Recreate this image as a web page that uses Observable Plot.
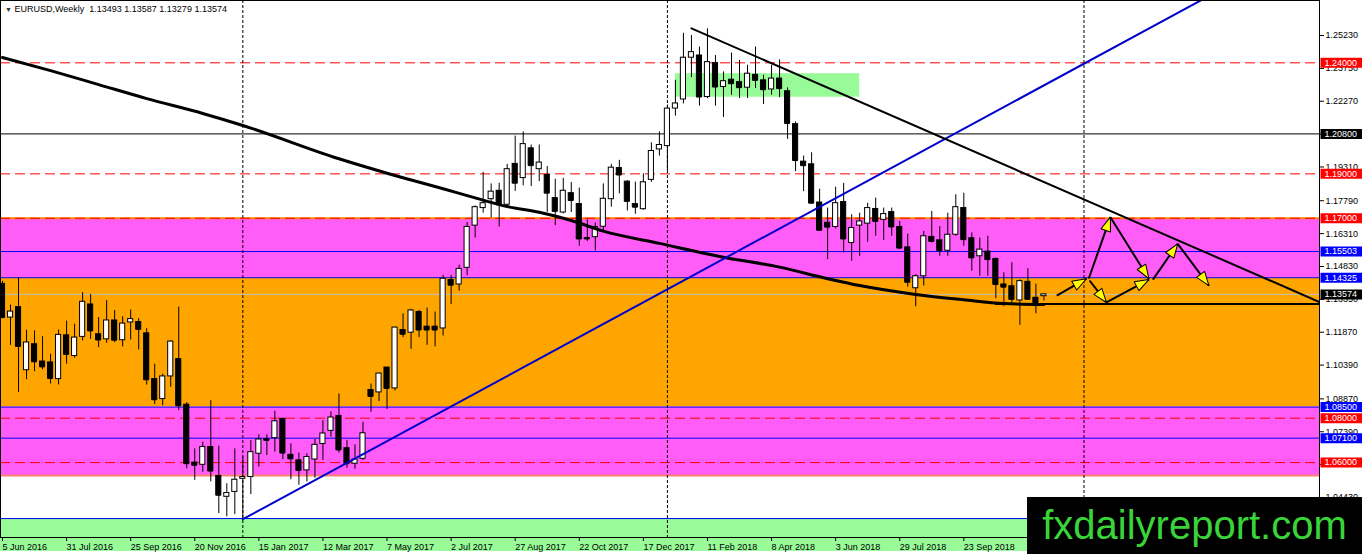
<!DOCTYPE html>
<html>
<head>
<meta charset="utf-8">
<script src="https://cdn.jsdelivr.net/npm/d3@7"></script>
<script src="https://cdn.jsdelivr.net/npm/@observablehq/plot@0.6"></script>
<style>
  html, body { margin: 0; padding: 0; background: #fff; }
  #wrap { position: relative; width: 1362px; height: 554px; overflow: hidden; }
  #title { position: absolute; left: 5px; top: 4px; font: 9px "Liberation Sans", Arial, sans-serif; color: #000; white-space: pre; }
  #title .tri { font-size: 7px; color: #333; }
  #brand { position: absolute; left: 1027px; top: 497px; width: 335px; height: 57px; background: #000;
           color: #3ad43a; font: 40px "Liberation Sans", Arial, sans-serif; line-height: 57px; text-align: center; letter-spacing: 0px; }
</style>
</head>
<body>
<div id="wrap">
  <div id="chart"></div>
  <div id="title"><span class="tri">▼</span> EURUSD,Weekly  1.13493 1.13587 1.13279 1.13574</div>
  <div id="brand">fxdailyreport.com</div>
</div>
<script>
// EURUSD weekly bars, first bar = week of 5 Jun 2016
const barOpen = [1.1405,1.1253,1.1300,1.1016,1.1133,1.1055,1.1051,1.0976,1.1173,1.1080,
  1.1166,1.1312,1.1178,1.1155,1.1240,1.1151,1.1231,1.1233,1.1182,1.0976,
  1.0886,1.0988,1.1066,1.0861,1.0600,1.0590,1.0670,1.0540,1.0446,1.0468,
  1.0527,1.0535,1.0640,1.0705,1.0710,1.0797,1.0635,1.0610,1.0565,1.0614,
  1.0684,1.0743,1.0810,1.0665,1.0595,1.0617,1.0927,1.0916,1.1028,1.0934,
  1.1197,1.1185,1.1278,1.1212,1.1212,1.1204,1.1422,1.1402,1.1477,1.1667,
  1.1746,1.1786,1.1824,1.1761,1.1945,1.1881,1.2015,1.1921,1.1895,1.1791,
  1.1726,1.1813,1.1764,1.1611,1.1615,1.1662,1.1786,1.1926,1.1865,1.1764,
  1.1741,1.1873,1.2010,1.2025,1.2194,1.2235,1.2423,1.2433,1.2246,1.2399,
  1.2291,1.2324,1.2313,1.2288,1.2346,1.2321,1.2280,1.2329,1.2272,1.2124,
  1.1955,1.1943,1.1771,1.1680,1.1661,1.1773,1.1589,1.1667,1.1676,1.1742,
  1.1693,1.1728,1.1661,1.1569,1.1385,1.1439,1.1616,1.1601,1.1554,1.1626,
  1.1746,1.1610,1.1529,1.1550,1.1517,1.1402,1.1394,1.1330,1.1414,1.1342,
  1.13493];
const barHigh = [1.1416,1.1309,1.1432,1.1196,1.1193,1.1167,1.1088,1.1197,1.1237,1.1223,
  1.1365,1.1357,1.1253,1.1330,1.1285,1.1257,1.1287,1.1248,1.1203,1.1043,
  1.0998,1.1148,1.1300,1.0870,1.0662,1.0692,1.0879,1.0674,1.0505,1.0662,
  1.0625,1.0699,1.0725,1.0725,1.0831,1.0800,1.0685,1.0643,1.0640,1.0704,
  1.0789,1.0829,1.0909,1.0700,1.0680,1.0782,1.0954,1.1003,1.1028,1.1210,
  1.1270,1.1290,1.1285,1.1296,1.1278,1.1443,1.1443,1.1489,1.1681,1.1756,
  1.1907,1.1855,1.1858,1.1943,1.2070,1.2089,1.2030,1.2030,1.1933,1.1876,
  1.1880,1.1861,1.1836,1.1693,1.1679,1.1855,1.1943,1.1961,1.1870,1.1863,
  1.1900,1.2040,1.2089,1.2210,1.2321,1.2533,1.2523,1.2471,1.2553,1.2433,
  1.2359,1.2444,1.2411,1.2389,1.2471,1.2344,1.2389,1.2413,1.2287,1.2134,
  1.1980,1.1995,1.1831,1.1746,1.1840,1.1857,1.1716,1.1723,1.1768,1.1791,
  1.1746,1.1746,1.1686,1.1629,1.1446,1.1641,1.1731,1.1663,1.1723,1.1806,
  1.1813,1.1634,1.1611,1.1619,1.1521,1.1455,1.1500,1.1423,1.1473,1.1404,
  1.13587];
const barLow = [1.1248,1.1128,1.0916,1.0973,1.1009,1.1018,1.0954,1.0950,1.1043,1.1070,
  1.1148,1.1155,1.1118,1.1137,1.1140,1.1121,1.1152,1.1107,1.0949,1.0861,
  1.0856,1.0939,1.0834,1.0572,1.0520,1.0557,1.0513,1.0371,1.0356,1.0366,
  1.0342,1.0456,1.0580,1.0632,1.0647,1.0613,1.0523,1.0498,1.0513,1.0530,
  1.0610,1.0715,1.0643,1.0575,1.0570,1.0610,1.0827,1.0875,1.0839,1.0923,
  1.1163,1.1110,1.1163,1.1128,1.1121,1.1170,1.1312,1.1372,1.1442,1.1611,
  1.1723,1.1701,1.1661,1.1750,1.1821,1.1846,1.1843,1.1865,1.1726,1.1667,
  1.1720,1.1726,1.1574,1.1596,1.1553,1.1641,1.1750,1.1810,1.1733,1.1718,
  1.1736,1.1862,1.1980,1.1915,1.2160,1.2215,1.2333,1.2205,1.2239,1.2205,
  1.2154,1.2254,1.2239,1.2239,1.2284,1.2212,1.2254,1.2243,1.2055,1.1910,
  1.1820,1.1764,1.1644,1.1514,1.1652,1.1544,1.1507,1.1529,1.1592,1.1619,
  1.1600,1.1619,1.1559,1.1390,1.1302,1.1395,1.1589,1.1529,1.1529,1.1619,
  1.1574,1.1462,1.1439,1.1439,1.1338,1.1302,1.1316,1.1218,1.1330,1.1270,
  1.13279];
const barClose = [1.1253,1.1280,1.1123,1.1141,1.1054,1.1031,1.0979,1.1175,1.1087,1.1163,
  1.1324,1.1193,1.1152,1.1240,1.1151,1.1226,1.1246,1.1200,1.0973,1.0883,
  1.0988,1.1145,1.0856,1.0595,1.0588,1.0670,1.0562,1.0453,1.0463,1.0523,
  1.0535,1.0647,1.0704,1.0700,1.0786,1.0643,1.0617,1.0565,1.0625,1.0680,
  1.0731,1.0803,1.0657,1.0595,1.0614,1.0732,1.0898,1.1001,1.0934,1.1208,
  1.1178,1.1285,1.1197,1.1197,1.1197,1.1428,1.1399,1.1472,1.1661,1.1750,
  1.1768,1.1820,1.1761,1.1921,1.1858,1.2034,1.1937,1.1951,1.1813,1.1731,
  1.1824,1.1780,1.1607,1.1607,1.1661,1.1788,1.1928,1.1895,1.1776,1.1750,
  1.1862,1.2003,1.2030,1.2194,1.2217,1.2423,1.2448,1.2246,1.2403,1.2291,
  1.2317,1.2306,1.2288,1.2351,1.2321,1.2279,1.2329,1.2284,1.2127,1.1960,
  1.1937,1.1768,1.1646,1.1660,1.1768,1.1607,1.1656,1.1686,1.1746,1.1686,
  1.1719,1.1661,1.1566,1.1412,1.1439,1.1619,1.1596,1.1554,1.1626,1.1750,
  1.1604,1.1522,1.1559,1.1514,1.1402,1.1390,1.1335,1.1417,1.1335,1.1320,
  1.13574];

// moving average, read at selected bars
const maBar = [0,6,12,18,25,30,42,48,55,59,63,67,71,75,82,90,97,103,107,114,120,125,130];
const maValue = [1.2424,1.2365,1.2302,1.2239,1.2172,1.2118,1.1968,1.1903,1.1833,1.1792,1.1753,1.1727,
  1.1690,1.1642,1.1587,1.1525,1.1480,1.1428,1.1397,1.1357,1.1333,1.1316,1.1312];

// date axis
const xTickBar = [0,8,16,24,32,40,48,56,64,72,80,88,96,104,112,120];
const xTickLabels = ["5 Jun 2016","31 Jul 2016","25 Sep 2016","20 Nov 2016","15 Jan 2017","12 Mar 2017",
  "7 May 2017","2 Jul 2017","27 Aug 2017","22 Oct 2017","17 Dec 2017","11 Feb 2018","8 Apr 2018",
  "3 Jun 2018","29 Jul 2018","23 Sep 2018"];
const yearStartBar = [30, 83, 135];

// price axis
const yTicks = [1.2523,1.2375,1.2227,1.2079,1.1931,1.1779,1.1631,1.1483,1.1335,1.1187,1.1039,1.0887,1.0739,1.0591,1.0443];

// horizontal levels with price tags
const levelPrice = [1.24, 1.208, 1.19, 1.17, 1.15503, 1.14325, 1.13574, 1.085, 1.08, 1.071, 1.06];
const levelKind  = ["dash","solid","dash","dash","blue","blue","bid","blue","dash","blue","dash"];

// shaded zones
const zoneHigh = [1.17, 1.14325, 1.085, 1.0348];
const zoneLow  = [1.14325, 1.085, 1.0542, 1.0200];
const zoneFill = ["#ff5cf8", "#ffa500", "#ff5cf8", "#98fb98"];

// consolidation box
const boxBars = [84, 107];
const boxPrice = [1.2245, 1.2351];

// trend lines
const riseBar = [30, 131];
const risePrice = [1.0345, 1.2318];
const fallBar = [86, 164.4];
const fallPrice = [1.2555, 1.1323];
const supportBar = [124, 164.4];
const supportPrice = 1.1314;

// projected path arrows
const arrowBar1 = [131.6, 135.6, 138.3, 135.7, 137.8, 143.6, 146.7];
const arrowPx1  = [1.1352, 1.1429, 1.1705, 1.1420, 1.1321, 1.1424, 1.1585];
const arrowBar2 = [135.3, 138.3, 143.1, 137.8, 143.1, 146.7, 150.6];
const arrowPx2  = [1.1428, 1.1705, 1.1428, 1.1321, 1.1424, 1.1585, 1.1397];

// ---------------------------------------------------------------
const width = 1362, height = 554;
const margin = {top: 0, right: 43, bottom: 17, left: 0};
const xDomain = [-0.25, 164.4];
const yDomain = [1.02628, 1.26806];
const kx = (width - margin.left - margin.right) / (xDomain[1] - xDomain[0]);
const ky = (height - margin.top - margin.bottom) / (yDomain[1] - yDomain[0]);

const bars = barOpen.map((o, i) => ({i, o, h: barHigh[i], l: barLow[i], c: barClose[i]}));
const ma = maBar.map((i, k) => ({i, p: maValue[k]}));
const zones = zoneHigh.map((hi, k) => ({hi, lo: zoneLow[k], fill: zoneFill[k]}));
const kindColor = {dash: "#ff0000", solid: "#000000", blue: "#0000ff", bid: "#000000"};
const levels = levelPrice.map((p, k) => ({p, kind: levelKind[k], bg: kindColor[levelKind[k]]}));

const slope = (risePrice[1] - risePrice[0]) / (riseBar[1] - riseBar[0]);
const riseLine = [
  {i: riseBar[0], p: risePrice[0]},
  {i: xDomain[1], p: risePrice[0] + slope * (xDomain[1] - riseBar[0])}
];
const fallLine = fallBar.map((i, k) => ({i, p: fallPrice[k]}));
const supportLine = supportBar.map(i => ({i, p: supportPrice}));

const arrows = arrowBar1.map((x1, k) => {
  const x2 = arrowBar2[k], y1 = arrowPx1[k], y2 = arrowPx2[k];
  const angle = Math.atan2((x2 - x1) * kx, (y2 - y1) * ky) * 180 / Math.PI;
  return {x1, y1, x2, y2, angle};
});

const arrowHead = {
  draw(ctx, l, r) {
    ctx.moveTo(-r, 0);
    ctx.lineTo(0, -l);
    ctx.lineTo(r, 0);
    ctx.closePath();
  }
};
const tagBox = {
  draw(ctx) {
    ctx.moveTo(1, -5);
    ctx.lineTo(44, -5);
    ctx.lineTo(44, 5);
    ctx.lineTo(1, 5);
    ctx.closePath();
  }
};

const chart = Plot.plot({
  width, height,
  marginTop: margin.top, marginRight: margin.right, marginBottom: margin.bottom, marginLeft: margin.left,
  x: {type: "linear", domain: xDomain, axis: null},
  y: {type: "linear", domain: yDomain, axis: null},
  color: {type: "identity"},
  style: {fontFamily: "'Liberation Sans', Arial, sans-serif", fontSize: "9px", background: "#fff", color: "#000", overflow: "visible"},
  marks: [
    // zones
    Plot.rect(zones, {y1: "lo", y2: "hi", fill: "fill"}),
    Plot.rect([0], {x1: () => boxBars[0], x2: () => boxBars[1], y1: () => boxPrice[0], y2: () => boxPrice[1], fill: "#98fb98"}),
    // zone edges
    Plot.ruleY([zoneHigh[0]], {stroke: "#ff8c00", strokeWidth: 2}),
    Plot.ruleY([zoneLow[2]], {stroke: "#fa8072", strokeWidth: 2}),
    Plot.ruleY([zoneHigh[3]], {stroke: "#0000ff", strokeWidth: 1}),
    // horizontal levels
    Plot.ruleY(levels.filter(d => d.kind === "dash"), {y: "p", stroke: "#ff0000", strokeWidth: 1, strokeDasharray: "10,5"}),
    Plot.ruleY(levels.filter(d => d.kind === "solid"), {y: "p", stroke: "#000", strokeWidth: 1}),
    Plot.ruleY(levels.filter(d => d.kind === "blue"), {y: "p", stroke: "#0000ff", strokeWidth: 1}),
    Plot.ruleY(levels.filter(d => d.kind === "bid"), {y: "p", stroke: "#c0c0c0", strokeWidth: 1}),
    // year separators
    Plot.ruleX(yearStartBar, {x: d => d, stroke: "#000", strokeDasharray: "3,2", strokeWidth: 1}),
    // candles
    Plot.ruleX(bars, {x: "i", y1: "l", y2: "h", stroke: "#000", strokeWidth: 1}),
    Plot.ruleY(bars, {x1: d => d.i - 0.32, x2: d => d.i + 0.32, y: "c", stroke: "#000", strokeWidth: 1}),
    Plot.rect(bars, {x1: d => d.i - 0.32, x2: d => d.i + 0.32, y1: "o", y2: "c",
      fill: d => d.c >= d.o ? "#fff" : "#000", stroke: "#000", strokeWidth: 1}),
    // moving average
    Plot.line(ma, {x: "i", y: "p", stroke: "#000", strokeWidth: 3, curve: "monotone-x"}),
    // trend lines
    Plot.line(riseLine, {x: "i", y: "p", stroke: "#0000cd", strokeWidth: 2, clip: true}),
    Plot.line(fallLine, {x: "i", y: "p", stroke: "#000", strokeWidth: 2, clip: true}),
    Plot.line(supportLine, {x: "i", y: "p", stroke: "#000", strokeWidth: 2, clip: true}),
    // projected path
    Plot.link(arrows, {x1: "x1", y1: "y1", x2: "x2", y2: "y2", stroke: "#000", strokeWidth: 2}),
    Plot.vector(arrows, {x: "x2", y: "y2", rotate: "angle", length: 14, r: 5, anchor: "end",
      shape: arrowHead, fill: "#ffff00", stroke: "#000", strokeWidth: 1}),
    // axes
    Plot.axisY(yTicks, {anchor: "right", tickSize: 4, tickPadding: 2, tickFormat: d => d.toFixed(5), fontSize: 9}),
    Plot.axisX(xTickBar, {anchor: "bottom", tickSize: 4, tickPadding: 2, textAnchor: "start", fontSize: 9,
      tickFormat: d => xTickLabels[xTickBar.indexOf(d)]}),
    // price tags
    Plot.dot(levels, {y: "p", frameAnchor: "right", symbol: tagBox, fill: "bg", stroke: null}),
    Plot.text(levels, {y: "p", frameAnchor: "right", text: d => d.p.toFixed(5), textAnchor: "start", dx: 5, fill: "#fff", fontSize: 9}),
    Plot.frame({stroke: "#000"})
  ]
});
document.getElementById("chart").appendChild(chart);
</script>
</body>
</html>
